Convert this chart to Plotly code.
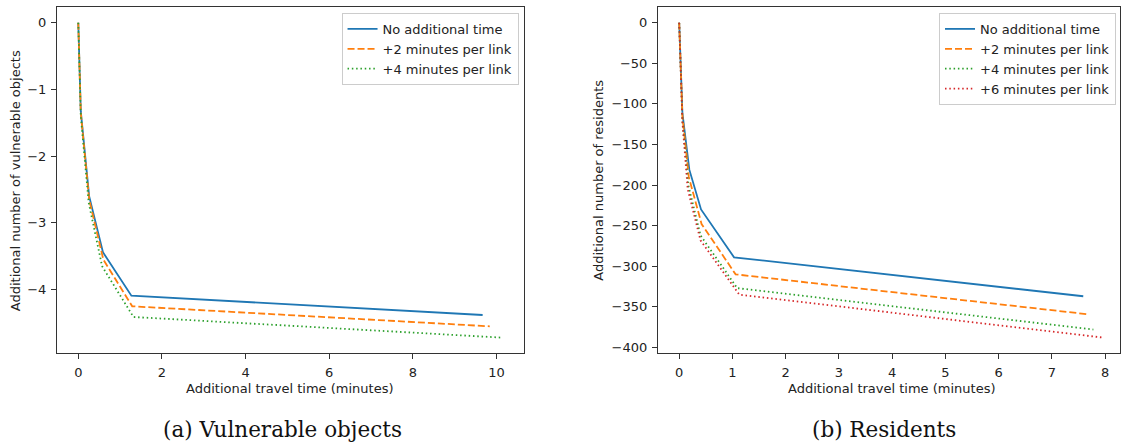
import plotly.graph_objects as go

W, H = 1121, 447

# ---- data: (a) vulnerable objects ----
a_names = ["No additional time", "+2 minutes per link", "+4 minutes per link"]
a_x_none = [0, 0.06, 0.26, 0.59, 1.27, 9.67]
a_y_none = [0, -1.33, -2.60, -3.44, -4.09, -4.38]
a_x_2 = [0, 0.06, 0.26, 0.60, 1.29, 9.84]
a_y_2 = [0, -1.35, -2.65, -3.55, -4.25, -4.55]
a_x_4 = [0, 0.06, 0.25, 0.57, 1.32, 10.15]
a_y_4 = [0, -1.40, -2.70, -3.65, -4.41, -4.72]

# ---- data: (b) residents ----
b_names = ["No additional time", "+2 minutes per link", "+4 minutes per link", "+6 minutes per link"]
b_x_none = [0, 0.06, 0.19, 0.41, 1.03, 7.59]
b_y_none = [0, -111, -181, -230, -289, -337]
b_x_2 = [0, 0.06, 0.18, 0.42, 1.06, 7.65]
b_y_2 = [0, -115, -190, -248, -310, -359]
b_x_4 = [0, 0.06, 0.17, 0.40, 1.09, 7.78]
b_y_4 = [0, -120, -200, -262, -327, -378]
b_x_6 = [0, 0.06, 0.16, 0.40, 1.13, 7.97]
b_y_6 = [0, -122, -205, -268, -335, -388]

colors = ["#1f77b4", "#ff7f0e", "#2ca02c", "#d62728"]
dashes = ["solid", "7px,3px", "1.5px,2.8px", "1.5px,2.8px"]
LW = 1.8

fig = go.Figure()
a_series = [(a_x_none, a_y_none), (a_x_2, a_y_2), (a_x_4, a_y_4)]
for i, (xs, ys) in enumerate(a_series):
    fig.add_trace(go.Scatter(x=xs, y=ys, mode="lines", name=a_names[i],
                             line=dict(color=colors[i], width=LW, dash=dashes[i]),
                             xaxis="x", yaxis="y", legend="legend"))
b_series = [(b_x_none, b_y_none), (b_x_2, b_y_2), (b_x_4, b_y_4), (b_x_6, b_y_6)]
for i, (xs, ys) in enumerate(b_series):
    fig.add_trace(go.Scatter(x=xs, y=ys, mode="lines", name=b_names[i],
                             line=dict(color=colors[i], width=LW, dash=dashes[i]),
                             xaxis="x2", yaxis="y2", legend="legend2"))

font_sans = "DejaVu Sans"
FS = 13
tickfont = dict(family=font_sans, size=FS, color="#222")

def px(x):
    return x / W

def py(y):
    return (H - y) / H

ax_common = dict(showgrid=False, zeroline=False, showline=True, mirror=True,
                 linecolor="#333", linewidth=1, ticks="outside", ticklen=5,
                 tickwidth=1, tickcolor="#333", tickfont=tickfont,
                 ticklabelstandoff=2)

ydom = [py(355), py(7)]
leg_common = dict(xanchor="right", yanchor="top", xref="paper", yref="paper",
                  bgcolor="rgba(255,255,255,0.8)", bordercolor="#ccc", borderwidth=1,
                  font=dict(family=font_sans, size=FS, color="#222"),
                  tracegroupgap=0, itemwidth=30)
fig.update_layout(
    width=W, height=H,
    margin=dict(l=0, r=0, t=0, b=0),
    paper_bgcolor="white", plot_bgcolor="white",
    xaxis=dict(domain=[px(57), px(524.5)], range=[-0.51, 10.66], dtick=2,
               anchor="y", **ax_common),
    yaxis=dict(domain=ydom, range=[-4.956, 0.236], dtick=1,
               anchor="x", **ax_common),
    xaxis2=dict(domain=[px(658.5), 1.0], range=[-0.4, 8.28], dtick=1,
                anchor="y2", **ax_common),
    yaxis2=dict(domain=ydom, range=[-407.4, 19.4], dtick=50,
                anchor="x2", **ax_common),
    legend=dict(x=px(519), y=py(13), **leg_common),
    legend2=dict(x=px(1117), y=py(13), **leg_common),
    showlegend=True,
)

ann_font = dict(family=font_sans, size=FS, color="#222")
cap_font = dict(family="DejaVu Serif", size=21.5, color="#111")
annotations = [
    dict(text="Additional travel time (minutes)", x=px(290.7), y=py(390),
         font=ann_font),
    dict(text="Additional travel time (minutes)", x=px(892.5), y=py(390),
         font=ann_font),
    dict(text="Additional number of vulnerable objects", x=px(15), y=py(181),
         textangle=-90, font=ann_font),
    dict(text="Additional number of residents", x=px(599), y=py(181),
         textangle=-90, font=ann_font),
    dict(text="(a) Vulnerable objects", x=px(283), y=py(431), font=cap_font),
    dict(text="(b) Residents", x=px(885), y=py(431), font=cap_font),
]
for a in annotations:
    a.update(xref="paper", yref="paper", showarrow=False,
             xanchor="center", yanchor="middle")
fig.update_layout(annotations=annotations)

fig.write_html("out.html")
